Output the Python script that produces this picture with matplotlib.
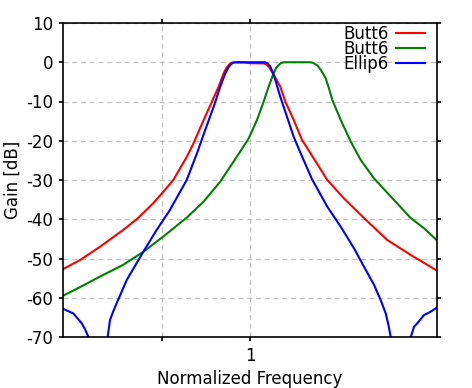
import matplotlib
matplotlib.use("Agg")
import matplotlib.pyplot as plt

# Butt6 (red), centred at 1
red_f = [0.2287, 0.2615, 0.3061, 0.3677, 0.4088, 0.4658, 0.5039, 0.5452, 0.6073,
         0.6400, 0.6925, 0.7396, 0.7795, 0.8109, 0.8276, 0.8435, 0.8589, 0.8774,
         0.95, 1.0, 1.1113, 1.1316, 1.1558, 1.2023, 1.2663, 1.3173, 1.4074, 1.5029,
         1.6478, 1.8340, 2.0921, 2.4491, 2.9424, 3.5384, 4.352]
red_db = [-52.7, -50.4, -47.0, -42.7, -40.0, -35.9, -33.0, -30.0, -24.0,
          -20.6, -14.7, -10.0, -6.2, -2.8, -1.5, -0.7, -0.2, 0.0,
          -0.05, -0.25, -0.3, -0.5, -1.1, -3.2, -6.2, -10.0, -14.7, -19.8,
          -24.5, -30.0, -34.7, -39.7, -45.3, -49.1, -53.1]

# Butt6 (green), shifted band
green_f = [0.2287, 0.2615, 0.3061, 0.3677, 0.4304, 0.5039, 0.6059, 0.6925, 0.7895,
           0.9006, 0.9875, 1.0541, 1.1113, 1.1558, 1.2023, 1.2245, 1.2506, 1.2737,
           1.3009, 1.6044, 1.6321, 1.6516, 1.6952, 1.7414, 1.8113, 1.8588, 1.9076,
           2.0384, 2.2055, 2.3863, 2.6498, 3.1017, 3.5384, 3.9289, 4.352]
green_db = [-59.5, -57.3, -54.6, -51.6, -48.3, -44.4, -39.6, -35.5, -30.4,
            -24.0, -19.4, -14.7, -10.0, -6.2, -2.8, -1.5, -0.7, -0.2,
            0.0, 0.0, -0.1, -0.3, -0.8, -1.9, -4.1, -6.7, -9.6,
            -14.7, -20.2, -24.9, -29.6, -35.1, -39.7, -42.3, -45.4]

# Ellip6 (blue)
blue_f = [0.2287, 0.2480, 0.2650, 0.2719, 0.2791, 0.3013, 0.3251, 0.3311, 0.3391,
          0.3490, 0.3777, 0.4304, 0.4784, 0.5312, 0.6059, 0.6569, 0.7015, 0.7496,
          0.7895, 0.8214, 0.8389, 0.8543, 0.8693, 0.8887, 1.1253, 1.1451, 1.1706,
          1.1939, 1.2174, 1.2663, 1.3352, 1.4074, 1.5029, 1.6259, 1.8340, 2.0384,
          2.2636, 2.4491, 2.6498, 2.7933, 2.9054, 2.9704, 3.0220, 3.2518, 3.5384,
          3.6311, 3.7273, 3.9289, 4.0864, 4.352]
blue_db = [-62.8, -64.0, -66.5, -68.0, -69.9, -95.0, -70.0, -65.7, -63.6,
           -61.4, -55.5, -48.3, -42.7, -37.6, -30.0, -23.2, -17.2, -11.3,
           -6.2, -2.8, -1.5, -0.7, -0.2, 0.0, 0.0, -0.3, -1.1,
           -2.6, -4.5, -8.8, -13.9, -19.0, -24.0, -29.8, -36.8, -41.9,
           -47.4, -52.1, -56.7, -60.6, -64.0, -67.0, -70.0, -95.0, -70.0,
           -67.4, -66.5, -64.4, -63.8, -62.5]

series_labels = ["Butt6", "Butt6", "Ellip6"]
series_colors = ["#ff0000", "#008000", "#0000ff"]

x_ticks = [0.5, 1.0]
x_ticklabels = ["", "1"]
y_ticks = [10, 0, -10, -20, -30, -40, -50, -60, -70]

plt.rcParams["font.family"] = ["DejaVu Sans"]

fig = plt.figure(figsize=(4.72, 3.88), dpi=100)
ax = fig.add_axes([63 / 472, 1 - 337 / 388, (437 - 63) / 472, (337 - 23) / 388])

for f, db, lab, col in zip([red_f, green_f, blue_f], [red_db, green_db, blue_db],
                           series_labels, series_colors):
    ax.plot(f, db, color=col, lw=1.5, label=lab)

ax.set_xscale("log")
ax.set_xlim(0.2287, 4.352)
ax.set_ylim(-70, 10)
ax.set_xticks(x_ticks)
ax.set_xticklabels(x_ticklabels)
ax.xaxis.set_minor_locator(matplotlib.ticker.NullLocator())
ax.set_yticks(y_ticks)
ax.set_yticklabels([str(v) for v in y_ticks])

ax.grid(True, color="#c0c0c0", linestyle=(0, (4, 3)), linewidth=0.9)
ax.set_axisbelow(True)
for s in ax.spines.values():
    s.set_linewidth(1.2)
ax.tick_params(which="both", direction="out", length=3, width=1.2,
               top=True, right=True, labelsize=12, pad=4)

ax.set_xlabel("Normalized Frequency", fontsize=12, labelpad=4)
ax.set_ylabel("Gain [dB]", fontsize=12, labelpad=3)

ax.legend(loc="upper right", bbox_to_anchor=(0.977, 1.005), frameon=False,
          markerfirst=False, fontsize=12, handlelength=1.75, handletextpad=0.45,
          labelspacing=-0.17, borderpad=0.2, borderaxespad=0)

fig.savefig("out.png", dpi=100)
